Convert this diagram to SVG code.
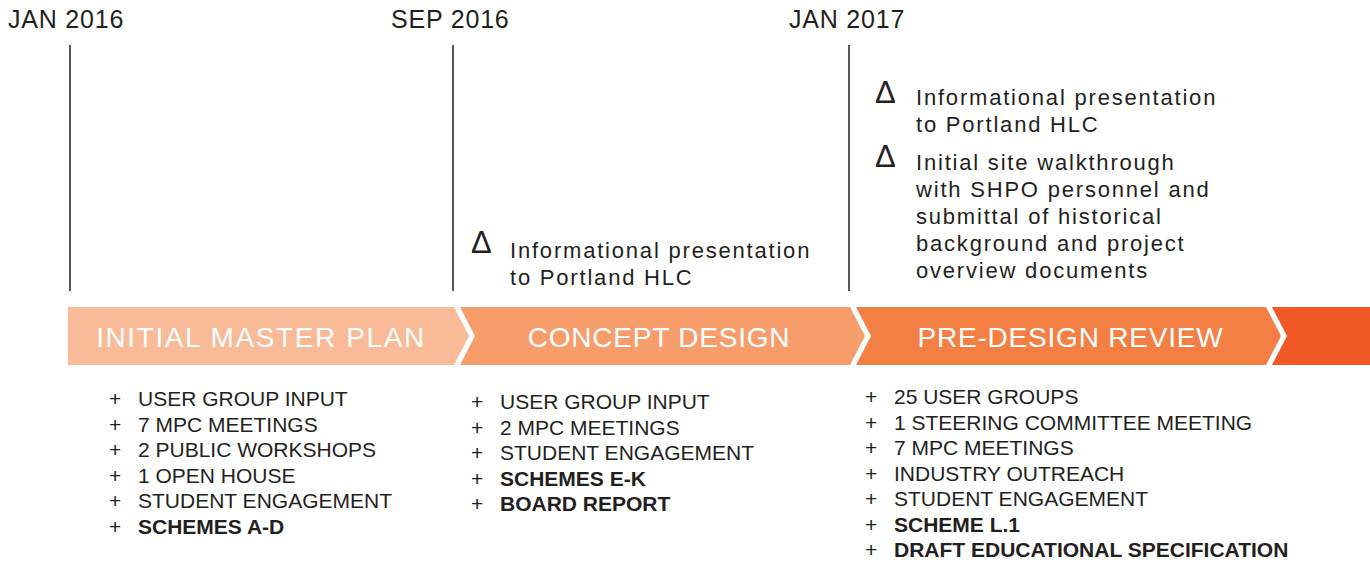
<svg xmlns="http://www.w3.org/2000/svg" width="1370" height="564" viewBox="0 0 1370 564">
<style>
text{font-family:"Liberation Sans",Arial,sans-serif;fill:#231F20}
.date{font-size:25px;letter-spacing:0.8px}
.phase{font-size:28px;fill:#fff;letter-spacing:0.8px}
.item{font-size:21px}
.b{font-weight:bold}
.note{font-size:22px;letter-spacing:1.8px}
.delta{font-size:31px}
.tick{stroke:#231F20;stroke-width:1.5}
</style>
<rect width="1370" height="564" fill="#fff"/>
<g id="dates">
<text class="date" x="8" y="27.5">JAN 2016</text>
<text class="date" x="391" y="27.5">SEP 2016</text>
<text class="date" x="789" y="27.5">JAN 2017</text>
</g>
<g id="connectors">
<line class="tick" x1="70" y1="45" x2="70" y2="291"/>
<line class="tick" x1="453" y1="45" x2="453" y2="291"/>
<line class="tick" x1="849" y1="45" x2="849" y2="291"/>
</g>
<g id="phase1">
<polygon points="68,307 454,307 469,336 454,365 68,365" fill="#F9BA98"/>
<text class="phase" x="261" y="347" text-anchor="middle" style="letter-spacing:1.6px">INITIAL MASTER PLAN</text>
</g>
<g id="phase2">
<polygon points="460,307 850,307 865,336 850,365 460,365 475,336" fill="#F79D6C"/>
<text class="phase" x="659" y="347" text-anchor="middle">CONCEPT DESIGN</text>
</g>
<g id="phase3">
<polygon points="856,307 1266,307 1281,336 1266,365 856,365 871,336" fill="#F37F45"/>
<text class="phase" x="1070.5" y="347" text-anchor="middle">PRE-DESIGN REVIEW</text>
</g>
<g id="phase4">
<polygon points="1272,307 1370,307 1370,365 1272,365 1287,336" fill="#F15A24"/>
</g>
<g id="note-sep2016">
<text class="delta" x="471" y="253">Δ</text>
<text class="note" x="510" y="258">Informational presentation</text>
<text class="note" x="510" y="285">to Portland HLC</text>
</g>
<g id="note-jan2017">
<text class="delta" x="875" y="103">Δ</text>
<text class="note" x="916" y="105">Informational presentation</text>
<text class="note" x="916" y="132">to Portland HLC</text>
<text class="delta" x="875" y="167">Δ</text>
<text class="note" x="916" y="170">Initial site walkthrough</text>
<text class="note" x="916" y="197">with SHPO personnel and</text>
<text class="note" x="916" y="224">submittal of historical</text>
<text class="note" x="916" y="251">background and project</text>
<text class="note" x="916" y="278">overview documents</text>
</g>
<g id="list1">
<text class="item" x="109" y="406">+</text><text class="item" x="138" y="406">USER GROUP INPUT</text>
<text class="item" x="109" y="431.5">+</text><text class="item" x="138" y="431.5">7 MPC MEETINGS</text>
<text class="item" x="109" y="457">+</text><text class="item" x="138" y="457">2 PUBLIC WORKSHOPS</text>
<text class="item" x="109" y="482.5">+</text><text class="item" x="138" y="482.5">1 OPEN HOUSE</text>
<text class="item" x="109" y="508">+</text><text class="item" x="138" y="508">STUDENT ENGAGEMENT</text>
<text class="item" x="109" y="533.5">+</text><text class="item b" x="138" y="533.5">SCHEMES A-D</text>
</g>
<g id="list2">
<text class="item" x="471" y="409">+</text><text class="item" x="500" y="409">USER GROUP INPUT</text>
<text class="item" x="471" y="434.5">+</text><text class="item" x="500" y="434.5">2 MPC MEETINGS</text>
<text class="item" x="471" y="460">+</text><text class="item" x="500" y="460">STUDENT ENGAGEMENT</text>
<text class="item" x="471" y="485.5">+</text><text class="item b" x="500" y="485.5">SCHEMES E-K</text>
<text class="item" x="471" y="511">+</text><text class="item b" x="500" y="511">BOARD REPORT</text>
</g>
<g id="list3">
<text class="item" x="865" y="404">+</text><text class="item" x="894" y="404">25 USER GROUPS</text>
<text class="item" x="865" y="429.5">+</text><text class="item" x="894" y="429.5">1 STEERING COMMITTEE MEETING</text>
<text class="item" x="865" y="455">+</text><text class="item" x="894" y="455">7 MPC MEETINGS</text>
<text class="item" x="865" y="480.5">+</text><text class="item" x="894" y="480.5">INDUSTRY OUTREACH</text>
<text class="item" x="865" y="506">+</text><text class="item" x="894" y="506">STUDENT ENGAGEMENT</text>
<text class="item" x="865" y="531.5">+</text><text class="item b" x="894" y="531.5">SCHEME L.1</text>
<text class="item" x="865" y="557">+</text><text class="item b" x="894" y="557">DRAFT EDUCATIONAL SPECIFICATION</text>
</g>
</svg>
